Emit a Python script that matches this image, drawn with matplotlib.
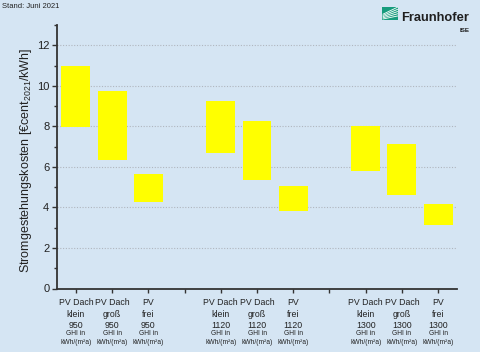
import matplotlib
matplotlib.use("Agg")
import matplotlib.pyplot as plt
from matplotlib.patches import Rectangle
from matplotlib.lines import Line2D
import matplotlib.transforms as mtransforms

plt.rcParams['font.family'] = ['Liberation Sans', 'DejaVu Sans']
plt.rcParams['mathtext.fontset'] = 'custom'
plt.rcParams['mathtext.rm'] = 'Liberation Sans'
plt.rcParams['mathtext.it'] = 'Liberation Sans'

# Daten
kategorien = ["PV Dach\nklein", "PV Dach\ngroß", "PV\nfrei"]
ghi = [950, 1120, 1300]
lcoe_min = [7.95, 6.33, 4.26, 6.69, 5.36, 3.80, 5.79, 4.61, 3.11]
lcoe_max = [11.00, 9.73, 5.67, 9.27, 8.24, 5.05, 8.02, 7.12, 4.16]

bg = '#D5E5F3'
W, H = 480, 352

fig = plt.figure(figsize=(4.8, 3.52), dpi=100, facecolor=bg)
ax = fig.add_axes([57 / W, 1 - 288.5 / H, 400 / W, 263.5 / H], facecolor=bg)

pos, labels = [], []
for g, wert in enumerate(ghi):
    for i, kat in enumerate(kategorien):
        pos.append(1 + g * 4 + i)
        labels.append(f"{kat}\n{wert}")

hoehe = [hi - lo for lo, hi in zip(lcoe_min, lcoe_max)]
ax.bar(pos, hoehe, bottom=lcoe_min, width=0.8, color='#FFFF00', zorder=3)

ax.set_xlim(0.48, 11.52)
ax.set_ylim(0, 13)
ax.set_yticks(range(0, 13, 2))
ax.set_yticks(range(1, 14, 2), minor=True)
ax.set_xticks(range(1, 12))
xlab = [''] * 11
for p, l in zip(pos, labels):
    xlab[p - 1] = l
ax.set_xticklabels(xlab, fontsize=6.3, linespacing=1.38)

ax.grid(axis='y', which='major', linestyle=(0, (1, 1.5)), color='#B0B6BE', linewidth=0.8, zorder=1)
ax.yaxis.get_gridlines()[0].set_visible(False)

for s in ['top', 'right']:
    ax.spines[s].set_visible(False)
for s in ['left', 'bottom']:
    ax.spines[s].set_color('#333333')
    ax.spines[s].set_linewidth(1.3)

ax.tick_params(axis='y', which='major', direction='out', length=3.5, width=1, colors='#333333',
               labelsize=8, labelcolor='#222222', pad=2)
ax.tick_params(axis='y', which='minor', direction='out', length=2, width=1, colors='#333333')
ax.tick_params(axis='x', which='major', direction='out', length=3, width=1, colors='#333333',
               labelcolor='#222222', pad=3.8)

# kleine Zusatzbeschriftung unter den Kategorien
trans = mtransforms.blended_transform_factory(ax.transData, ax.transAxes)
for p in pos:
    ax.annotate("GHI in\nkWh/(m²a)", xy=(p, 0), xycoords=trans, xytext=(0, -41.5),
                textcoords='offset pixels', ha='center', va='top', fontsize=4.8,
                linespacing=1.3, color='#222222', annotation_clip=False)

fig.text(26.5 / W, 1 - 160 / H, "Stromgestehungskosten [€cent$_{2021}$/kWh]",
         rotation=90, ha='center', va='center', fontsize=9, color='#222222')

fig.text(2 / W, 1 - 7 / H, "Stand: Juni 2021", ha='left', va='center', fontsize=5.5, color='#222222')

# Logo
fig.text(401.5 / W, 1 - 20.8 / H, "Fraunhofer", ha='left', va='baseline', fontsize=9.3,
         fontweight='bold', color='#1F1F1F')
fig.text(470 / W, 1 - 30 / H, "ISE", ha='right', va='center', fontsize=4.5,
         fontweight='bold', color='#1F1F1F')
fig.add_artist(Rectangle((382 / W, 1 - 20 / H), 16 / W, 13.3 / H, transform=fig.transFigure,
                         facecolor='#179C7D', edgecolor='none'))
for k in range(5):
    y0 = 1 - (19 - k * 1.2) / H
    y1 = 1 - (16 - k * 2.2) / H
    fig.add_artist(Line2D([383 / W, 397.5 / W], [y0, y1], transform=fig.transFigure,
                          color='white', linewidth=0.6))

fig.savefig("out.png", dpi=100, facecolor=bg)
